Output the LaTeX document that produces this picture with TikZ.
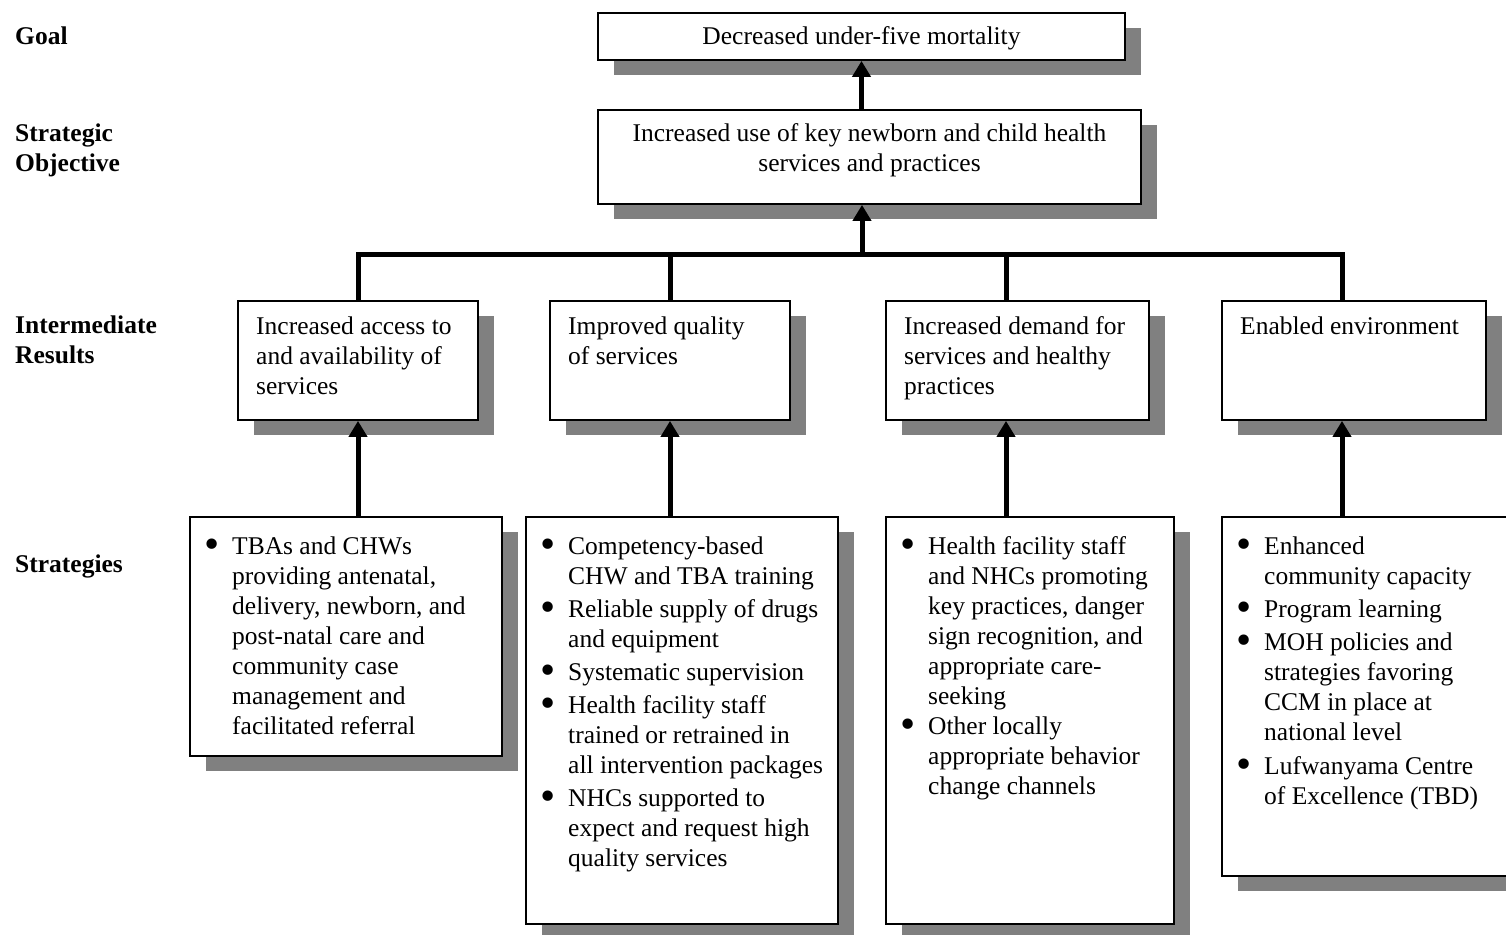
\documentclass[tikz,border=0pt]{standalone}
\usepackage{fontspec}
\usepackage{graphicx}
\setmainfont{Liberation Serif}
\usetikzlibrary{arrows.meta,shadows}
\definecolor{shadowgray}{HTML}{808080}
\newcommand{\txtl}[1]{\begin{tabular}[t]{@{}l@{}}#1\end{tabular}}
\newcommand{\txtc}[1]{\begin{tabular}[t]{@{}c@{}}#1\end{tabular}}
\newcommand{\blist}[1]{\begin{tabular}[t]{@{}l@{\hspace{16pt}}l@{}}#1\end{tabular}}
\newcommand{\bul}{\makebox[9pt][c]{\smash{\raisebox{-4pt}{\scalebox{1.7}{\textbullet}}}}}
\begin{document}
\begin{tikzpicture}[x=1pt,y=-1pt,
  box/.style={draw=black, line width=1.8pt, fill=white, inner sep=0pt,
    drop shadow={shadow xshift=16pt, shadow yshift=-15pt, fill=shadowgray, opacity=1}},
  txt/.style={anchor=base west, inner sep=0pt, font=\fontsize{25.5}{30}\selectfont},
  lbl/.style={txt, font=\fontsize{25.5}{30}\selectfont\bfseries},
  conn/.style={line width=5pt, line join=miter},
  arr/.style={line width=5pt, -{Triangle[length=16pt,width=18pt]}}]
\useasboundingbox (0,0) rectangle (1506,934);

% left labels
\node[lbl] (lgoal) at (15,45) {Goal};
\node[lbl] (lso) at (15,141) {\txtl{Strategic\\Objective}};
\node[lbl] (lir) at (15,333) {\txtl{Intermediate\\Results}};
\node[lbl] (lst) at (15,572) {Strategies};

% boxes
\node[box, minimum width=527pt, minimum height=47pt] (goal) at (861.5,36.5) {};
\node[box, minimum width=543pt, minimum height=94pt] (so) at (869.5,157) {};
\node[box, minimum width=240pt, minimum height=119pt] (ir1) at (358,360.5) {};
\node[box, minimum width=240pt, minimum height=119pt] (ir2) at (670,360.5) {};
\node[box, minimum width=263pt, minimum height=119pt] (ir3) at (1017.5,360.5) {};
\node[box, minimum width=264pt, minimum height=119pt] (ir4) at (1354,360.5) {};
\node[box, minimum width=312pt, minimum height=239pt] (s1) at (346,636.5) {};
\node[box, minimum width=312pt, minimum height=407pt] (s2) at (682,720.5) {};
\node[box, minimum width=288pt, minimum height=407pt] (s3) at (1030,720.5) {};
\node[box, minimum width=290pt, minimum height=359pt] (s4) at (1367,696.5) {};

% texts
\node[txt, anchor=base] (goalt) at (861.5,45) {Decreased under-five mortality};
\node[txt, anchor=base] (sot) at (869.5,141) {\txtc{Increased use of key newborn and child health\\services and practices}};
\node[txt] (ir1t) at (256,334) {\txtl{Increased access to\\and availability of\\services}};
\node[txt] (ir2t) at (568,334) {\txtl{Improved quality\\of services}};
\node[txt] (ir3t) at (904,334) {\txtl{Increased demand for\\services and healthy\\practices}};
\node[txt] (ir4t) at (1240,334) {Enabled environment};

\node[txt] (s1t) at (207,554) {\blist{\bul & TBAs and CHWs\\
 & providing antenatal,\\ & delivery, newborn, and\\ & post-natal care and\\
 & community case\\ & management and\\ & facilitated referral}};
\node[txt] (s2t) at (543,554) {\blist{\bul & Competency-based\\ & CHW and TBA training\\[3pt]
 \bul & Reliable supply of drugs\\ & and equipment\\[3pt]
 \bul & Systematic supervision\\[3pt]
 \bul & Health facility staff\\ & trained or retrained in\\ & all intervention packages\\[3pt]
 \bul & NHCs supported to\\ & expect and request high\\ & quality services}};
\node[txt] (s3t) at (903,554) {\blist{\bul & Health facility staff\\ & and NHCs promoting\\
 & key practices, danger\\ & sign recognition, and\\ & appropriate care-\\ & seeking\\
 \bul & Other locally\\ & appropriate behavior\\ & change channels}};
\node[txt] (s4t) at (1239,554) {\blist{\bul & Enhanced\\ & community capacity\\[3pt]
 \bul & Program learning\\[3pt]
 \bul & MOH policies and\\ & strategies favoring\\ & CCM in place at\\ & national level\\[4pt]
 \bul & Lufwanyama Centre\\ & of Excellence (TBD)}};

% connectors
\coordinate (j1) at (358,254);
\coordinate (j2) at (670,254);
\coordinate (j3) at (1006,254);
\coordinate (j4) at (1342,254);
\coordinate (jc) at (862,254);
\draw[conn] (j1 |- ir1.north) -- (j1) -- (j4) -- (j4 |- ir4.north);
\draw[conn] (j2) -- (j2 |- ir2.north);
\draw[conn] (j3) -- (j3 |- ir3.north);
\draw[arr] (jc) -- (jc |- so.south);
\draw[arr] (goal.south |- so.north) -- (goal.south);
\draw[arr] (j1 |- s1.north) -- (j1 |- ir1.south);
\draw[arr] (j2 |- s2.north) -- (j2 |- ir2.south);
\draw[arr] (j3 |- s3.north) -- (j3 |- ir3.south);
\draw[arr] (j4 |- s4.north) -- (j4 |- ir4.south);
\end{tikzpicture}
\end{document}
